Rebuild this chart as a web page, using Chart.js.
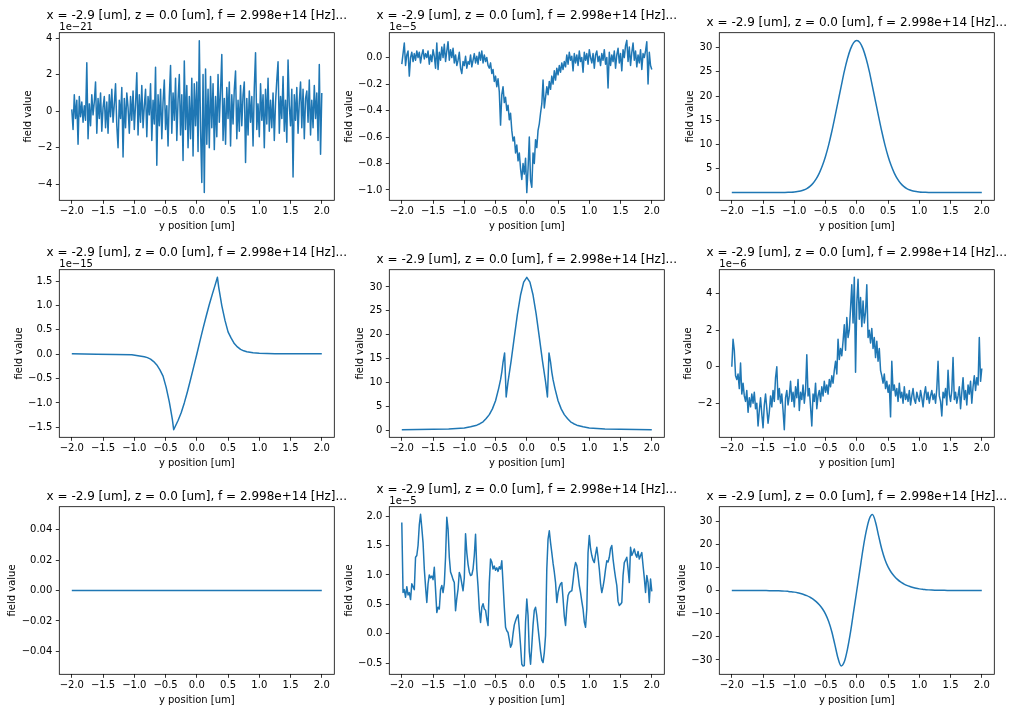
<!DOCTYPE html>
<html>
<head>
<meta charset="utf-8">
<script src="https://cdn.jsdelivr.net/npm/chart.js@4.4.1/dist/chart.umd.min.js"></script>
<style>
  html, body { margin: 0; padding: 0; background: #fff; }
  #fig { position: relative; width: 1013px; height: 712px; }
  #fig canvas { position: absolute; left: 0; top: 0; }
</style>
</head>
<body>
<div id="fig"></div>
<script>
// y position grids [um]
var yPos = [];      // 0.02 steps, noisy panels
for (var i = 0; i <= 200; i++) yPos.push(Math.round((-2 + i * 0.02) * 100) / 100);
var yPosCoarse = []; // 0.05 steps, smooth panels
for (var j = 0; j <= 80; j++) yPosCoarse.push(Math.round((-2 + j * 0.05) * 100) / 100);

var xTicks = [-2, -1.5, -1, -0.5, 0, 0.5, 1, 1.5, 2];

// row 1, col 1  (x 1e-21)
var p11 = [
  0.1, -1.0, 0.9, -0.4, 0.6, -1.8, 0.8, -0.3, 0.5, -0.6,
  0.3, -0.5, 2.65, -1.5, 0.4, -0.8, 0.9, -0.2, 0.5, 1.6,
  -1.2, 0.7, -0.4, 1.0, -1.1, 0.2, 0.8, -0.9, 0.5, -1.2,
  0.9, -0.3, 1.2, -0.6, 0.4, 1.5, -0.8, -2.0, 0.6, -0.4,
  1.3, -2.5, 0.7, -0.9, 1.0, 0.2, -1.2, 0.8, -0.5, 1.1,
  -1.0, 0.4, 2.1, -1.3, 0.9, -0.6, 1.4, -0.9, 0.3, 1.2,
  -1.4, 0.8, -0.2, 1.5, -1.6, 0.6, -0.7, 2.4, -2.95, 0.9,
  -0.8, 1.2, -1.5, 0.5, 1.7, -1.0, 0.3, -1.9, 0.8, 2.5,
  -1.2, 1.0, -0.5, 1.8, -1.6, 0.6, 2.0, -1.3, 0.9, -2.7,
  2.75, -1.0, 1.4, -2.0, 0.8, -1.5, 1.8, -2.45, 1.5, -0.8,
  1.6, -2.2, 3.85, -1.0, -3.9, 2.0, -4.45, 2.3, -1.8, 1.2,
  -2.0, 1.9, -0.9, 1.5, -2.1, 0.8, -1.4, 2.0, -0.6, 1.1,
  3.1, -1.6, 0.7, -1.8, 1.3, -0.4, 1.6, -1.9, 0.9, -0.7,
  1.2, 2.2, -1.5, 0.6, -1.1, 1.4, -0.8, 0.9, 1.6, -2.8,
  0.7, -1.3, 1.1, -0.6, 0.8, -1.9, 1.3, 3.2, -1.0, 0.4,
  -1.4, 1.5, -0.5, 0.9, -2.0, 1.2, -0.7, 1.8, -1.1, 0.6,
  -0.9, 1.0, -1.6, 0.5, 1.7, 2.7, -1.2, 0.8, -0.4, 1.9,
  -1.1, 0.6, -1.7, 2.8, 0.3, -0.8, 1.2, -3.6, 0.9, -0.5,
  1.3, -1.2, 0.5, 1.6, -0.9, 1.2, -1.5, 0.7, 1.1, -0.6,
  1.7, -1.3, 0.6, -0.9, 1.4, -0.4, 1.0, -1.6, 2.55, -2.35,
  1.0
];

// row 1, col 2  (x 1e-5)
var p12 = [
  -0.05, 0.03, 0.11, -0.06, 0.02, 0.05, -0.14, 0.0, 0.04, -0.03,
  0.03, -0.02, 0.05, 0.0, 0.04, -0.04, 0.02, 0.06, -0.01, 0.03,
  0.0, 0.05, -0.05, 0.02, -0.03, 0.06, 0.01, -0.08, 0.11, -0.09,
  0.04, -0.02, 0.08, 0.0, 0.1, -0.03, 0.05, 0.12, -0.02, 0.06,
  0.0, 0.07, -0.04, 0.02, -0.06, -0.02, 0.04, -0.08, -0.12, -0.03,
  -0.06, 0.01, -0.08, -0.03, -0.05, 0.02, -0.07, -0.02, 0.03, -0.04,
  0.01, -0.05, 0.04, -0.02, 0.05, -0.04, 0.02, -0.03, 0.0, -0.06,
  -0.08, -0.04, -0.12, -0.09, -0.18, -0.14, -0.22, -0.16, -0.26, -0.51,
  -0.28, -0.22, -0.34, -0.3, -0.4, -0.36, -0.47, -0.42, -0.55, -0.63,
  -0.6, -0.72, -0.66, -0.78, -0.72, -0.84, -0.92, -0.8, -0.88, -0.76,
  -1.02, -0.84, -0.6, -0.93, -0.98, -0.72, -0.8, -0.62, -0.68, -0.55,
  -0.5, -0.42, -0.35, -0.17, -0.38, -0.3, -0.22, -0.28, -0.18, -0.24,
  -0.14, -0.2, -0.1, -0.17, -0.08, -0.13, -0.06, -0.11, -0.04, -0.09,
  -0.03, -0.07, 0.02, -0.05, 0.04, -0.02, 0.01, -0.1, 0.03, -0.04,
  0.02, -0.06, 0.05, -0.03, 0.0, -0.11, 0.04, -0.02, 0.03, -0.05,
  0.06, 0.0, -0.04, 0.03, -0.08, 0.02, 0.05, -0.03, 0.01, -0.06,
  0.03, -0.02, 0.06, -0.05, 0.0, -0.23, 0.04, -0.06, 0.02, -0.03,
  0.05, -0.08, 0.02, 0.07, -0.04, 0.03, -0.1, 0.06, 0.0, 0.09,
  0.13, -0.03, 0.08, -0.06, 0.04, 0.11, -0.02, 0.05, -0.07, 0.02,
  -0.04, 0.06, -0.09, 0.03, 0.0, 0.05, 0.12, -0.2, 0.04, -0.06,
  -0.09
];

// row 1, col 3
var p13 = [
  0.02, 0.02, 0.02, 0.02, 0.02, 0.02, 0.02, 0.02, 0.02, 0.02, 0.02, 0.02, 0.02, 0.02, 0.02, 0.02,
  0.03, 0.04, 0.06, 0.09, 0.14, 0.22, 0.35, 0.55, 0.85, 1.3, 1.95, 2.85, 4.05, 5.6,
  7.55, 9.9, 12.65, 15.7, 18.85, 22.0, 25.1, 27.7, 29.75, 31.05,
  31.5,
  31.05, 29.75, 27.7, 25.1, 22.0, 18.85, 15.7, 12.65, 9.9, 7.55,
  5.6, 4.05, 2.85, 1.95, 1.3, 0.85, 0.55, 0.35, 0.22, 0.14, 0.09, 0.06, 0.04, 0.03,
  0.02, 0.02, 0.02, 0.02, 0.02, 0.02, 0.02, 0.02, 0.02, 0.02, 0.02, 0.02, 0.02, 0.02, 0.02, 0.02
];

// row 2, col 1  (x 1e-15)
var x21 = [-2.0, -1.6, -1.3, -1.04, -0.94, -0.84, -0.79, -0.74, -0.69, -0.64, -0.59, -0.54, -0.49, -0.44,
  -0.42, -0.39, -0.37, -0.3, -0.25, -0.2, -0.15, -0.1, -0.05, 0.0, 0.05, 0.1, 0.15, 0.2, 0.25, 0.3,
  0.33, 0.35, 0.38, 0.4, 0.45, 0.5, 0.55, 0.6, 0.65, 0.7, 0.75, 0.8, 0.9, 1.0, 1.25, 1.5, 2.0];
var p21 = [0.01, 0.0, -0.005, -0.01, -0.03, -0.05, -0.07, -0.1, -0.15, -0.22, -0.32, -0.45, -0.68, -0.98,
  -1.12, -1.35, -1.55, -1.36, -1.2, -1.0, -0.77, -0.52, -0.26, 0.0, 0.27, 0.53, 0.78, 1.02, 1.24, 1.45,
  1.58, 1.38, 1.15, 1.0, 0.7, 0.46, 0.33, 0.22, 0.15, 0.1, 0.07, 0.05, 0.03, 0.02, 0.01, 0.01, 0.01];

// row 2, col 2
var x22 = [-2.0, -1.5, -1.25, -1.0, -0.9, -0.8, -0.75, -0.7, -0.65, -0.6, -0.55, -0.5, -0.45, -0.42,
  -0.4, -0.38, -0.355, -0.33, -0.3, -0.25, -0.2, -0.15, -0.1, -0.05, 0.0, 0.05, 0.1, 0.15, 0.2, 0.25,
  0.3, 0.33, 0.355, 0.38, 0.4, 0.42, 0.45, 0.5, 0.55, 0.6, 0.65, 0.7, 0.75, 0.8, 0.9, 1.0, 1.25, 1.5, 2.0];
var p22 = [0.15, 0.22, 0.3, 0.5, 0.75, 1.1, 1.4, 1.8, 2.5, 3.3, 4.5, 6.2, 8.8, 10.6,
  12.2, 14.3, 16.2, 7.0, 10.2, 14.6, 19.5, 24.3, 28.3, 31.0, 32.0, 31.0, 28.3, 24.3, 19.5, 14.6,
  10.2, 7.0, 16.2, 14.3, 12.2, 10.6, 8.8, 6.2, 4.5, 3.3, 2.5, 1.8, 1.4, 1.1, 0.75, 0.5, 0.3, 0.22, 0.15];

// row 2, col 3  (x 1e-6)
var p23 = [
  0.0, 1.5, 0.9, -0.5, -0.7, -0.4, -1.2, 0.2, -1.5, -0.9,
  -1.6, -1.9, -1.3, -2.5, -1.7, -2.2, -1.5, -2.0, -1.4, -2.3,
  -2.0, -3.25, -2.4, -1.7, -2.6, -3.35, -2.1, -1.5, -2.3, -3.1,
  -2.5, -1.6, -2.2, -1.3, -1.9, -0.6, 0.0, -1.8, -1.2, -2.0,
  -1.5, -2.4, -3.45, -1.7, -1.3, -2.1, -1.6, -0.8, -1.9, -1.4,
  -2.2, -1.1, -1.7, -0.7, -2.4, -1.4, -1.8, -1.0, -2.0, -1.3,
  0.65, -1.6, -1.2, -2.2, -3.25, -1.5, -1.9, -0.9, -2.3, -1.6,
  -1.3, -1.9, -1.1, -1.6, -0.8, -1.4, -1.0, -1.5, -0.7, -1.1,
  -0.5, -0.9, -0.2, 0.3, -0.4, 1.5, 0.4, 1.0, 0.6, 1.4,
  2.3, 0.9, 2.7, 1.6, 2.0, 3.2, 4.5, 2.4, 4.9, -0.3,
  3.5, 4.8, 2.6, 3.8, 2.2, 3.6, 2.4, 3.0, 4.5, 1.6,
  2.0, 1.3, 2.1, 1.0, 1.6, 0.5, 1.4, 0.3, 1.0, -0.2,
  -0.5, -0.9, -0.4, -1.2, -0.8, -1.4, -1.0, -2.75, 0.3, -1.3,
  -1.0, -1.6, -1.2, -1.9, -0.9, -1.7, -1.4, -2.0, -1.1, -1.8,
  -1.5, -1.9, -1.3, -2.1, -1.6, -1.2, -1.8, -2.0, -1.4, -1.7,
  -1.9, -1.3, -1.7, -2.2, -1.5, -1.1, -1.8, -1.4, -2.0, -1.6,
  -1.3, -1.8, -1.5, -2.0, -1.2, 0.3, -1.6, -1.9, -2.7, -1.4,
  -1.7, -1.2, -2.1, -0.2, -1.5, -1.9, -1.3, 0.5, -1.8, -1.4,
  -2.0, -1.6, -1.1, -2.3, -1.4, -0.6, -1.8, -1.3, -2.1, -1.0,
  -1.5, -0.8, -2.0, -1.1, -0.5, -1.3, -0.6, -1.0, 1.6, -0.8,
  -0.1
];

// row 3, col 1
var x31 = [-2.0, -1.0, 0.0, 1.0, 2.0];
var p31 = [0, 0, 0, 0, 0];

// row 3, col 2  (x 1e-5)
var p32 = [
  1.89, 0.7, 0.75, 0.62, 0.8, 0.66, 0.7, 0.58, 0.85, 0.8,
  0.75, 1.3, 1.33, 1.5, 1.85, 2.03, 1.8, 1.55, 1.1, 0.8,
  0.53, 0.85, 1.0, 0.95, 0.98, 0.92, 1.13, 0.75, 0.36, 0.45,
  0.42, 0.75, 0.82, 0.7, 0.85, 1.3, 1.98, 1.78, 1.3, 1.05,
  0.99, 0.92, 0.87, 0.39, 0.6, 0.76, 1.04, 0.98, 0.85, 0.73,
  0.95, 1.7, 1.38, 1.18, 1.05, 0.99, 1.0, 1.1, 1.33, 1.69,
  1.1, 0.8, 0.42, 0.19, 0.45, 0.51, 0.42, 0.4, 0.25, 0.14,
  0.87, 1.27, 1.22, 1.1, 1.15, 1.08, 1.12, 1.06, 1.14, 1.1,
  1.24, 0.85, 0.45, 0.11, 0.05, 0.02, -0.1, -0.23, -0.18, 0.0,
  0.15, 0.22, 0.28, 0.32, 0.08, -0.2, -0.52, -0.55, -0.54, 0.2,
  0.59, 0.31, -0.3, -0.52, -0.2, 0.15, 0.4, 0.45, 0.31, 0.1,
  -0.1, -0.3, -0.45, -0.49, -0.32, -0.03, 1.1, 1.61, 1.75, 1.55,
  1.38, 1.2, 1.05, 0.87, 0.53, 0.7, 0.79, 0.85, 0.87, 0.6,
  0.3, 0.14, 0.45, 0.65, 0.7, 0.72, 0.73, 0.9, 1.1, 1.21,
  1.16, 1.0, 0.82, 0.7, 0.55, 0.42, 0.2, 0.11, 0.42, 1.38,
  1.67, 1.45, 1.33, 1.25, 1.21, 1.35, 1.47, 1.3, 1.1, 0.85,
  0.7, 0.8, 0.93, 1.1, 1.24, 1.22, 1.3, 1.45, 1.5, 1.27,
  1.1, 0.95, 0.82, 0.55, 0.48, 0.5, 0.53, 0.99, 1.21, 1.25,
  1.3, 1.1, 0.87, 1.47, 1.33, 1.38, 1.44, 1.35, 1.3, 1.4,
  1.27, 1.33, 1.38, 1.16, 0.95, 0.7, 0.99, 0.87, 0.53, 0.93,
  0.72
];

// row 3, col 3
var p33 = [
  -0.03, -0.03, -0.03, -0.03, -0.03, -0.03, -0.03, -0.03, -0.03, -0.03,
  -0.04, -0.05, -0.06, -0.08, -0.11, -0.15, -0.2, -0.27, -0.37, -0.5,
  -0.7, -0.95, -1.3, -1.7, -2.2, -2.9, -3.7, -4.8, -6.2, -7.9,
  -10.2, -13.4, -17.8, -23.5, -29.3, -32.6, -30.8, -25.4, -17.9, -8.9,
  0.0,
  9.0, 18.0, 25.5, 30.9, 32.8, 29.5, 23.5, 17.8, 13.4, 10.2,
  7.9, 6.2, 4.8, 3.7, 2.9, 2.2, 1.7, 1.3, 0.95, 0.7,
  0.5, 0.37, 0.27, 0.2, 0.15, 0.11, 0.08, 0.06, 0.05, 0.04,
  0.03, 0.03, 0.03, 0.03, 0.03, 0.03, 0.03, 0.03, 0.03, 0.03
];

var titleText = 'x = -2.9 [um], z = 0.0 [um], f = 2.998e+14 [Hz]...';

var panels = [
  { xs: yPos, ys: p11, yMin: -4.87, yMax: 4.29, yTicks: [-4, -2, 0, 2, 4], dec: 0, offset: '1e\u221221' },
  { xs: yPos, ys: p12, yMin: -1.078, yMax: 0.188, yTicks: [-1, -0.8, -0.6, -0.4, -0.2, 0], dec: 1, offset: '1e\u22125' },
  { xs: yPosCoarse, ys: p13, yMin: -1.58, yMax: 33.1, yTicks: [0, 5, 10, 15, 20, 25, 30], dec: 0, smooth: true },
  { xs: x21, ys: p21, yMin: -1.706, yMax: 1.736, yTicks: [-1.5, -1, -0.5, 0, 0.5, 1, 1.5], dec: 1, offset: '1e\u221215' },
  { xs: x22, ys: p22, yMin: -1.44, yMax: 33.6, yTicks: [0, 5, 10, 15, 20, 25, 30], dec: 0 },
  { xs: yPos, ys: p23, yMin: -3.87, yMax: 5.32, yTicks: [-2, 0, 2, 4], dec: 0, offset: '1e\u22126' },
  { xs: x31, ys: p31, yMin: -0.055, yMax: 0.055, yTicks: [-0.04, -0.02, 0, 0.02, 0.04], dec: 2 },
  { xs: yPos, ys: p32, yMin: -0.69, yMax: 2.16, yTicks: [-0.5, 0, 0.5, 1, 1.5, 2], dec: 1, offset: '1e\u22125' },
  { xs: yPosCoarse, ys: p33, yMin: -36.2, yMax: 36.2, yTicks: [-30, -20, -10, 0, 10, 20, 30], dec: 0, smooth: true }
];

var colLeft = [59.3, 389.3, 719.3];
var rowTop = [32.7, 269.7, 506.7];
var boxW = 275, boxH = 167.6;
var figW = 1013, figH = 712;

function fmt(v, d) {
  return v.toFixed(d).replace('-', '\u2212');
}

var panelText = {
  id: 'panelText',
  afterDatasetsDraw: function(chart, args, opts) {
    var ctx = chart.ctx, a = chart.chartArea;
    ctx.save();
    ctx.strokeStyle = '#000';
    ctx.lineWidth = 0.8;
    ctx.strokeRect(a.left, a.top, a.right - a.left, a.bottom - a.top);
    ctx.fillStyle = '#000';
    ctx.font = '12px "DejaVu Sans"';
    ctx.textAlign = 'center';
    ctx.textBaseline = 'alphabetic';
    ctx.fillText(titleText, (a.left + a.right) / 2, a.top - (opts.offset ? 14.2 : 7));
    ctx.font = '10px "DejaVu Sans"';
    if (opts.offset) {
      ctx.textAlign = 'left';
      ctx.fillText(opts.offset, a.left, a.top - 2.3);
    }
    ctx.textAlign = 'center';
    ctx.fillText('y position [um]', (a.left + a.right) / 2, a.bottom + 28.7);
    var w = 0;
    chart.scales.y.ticks.forEach(function(t) {
      w = Math.max(w, ctx.measureText(t.label).width);
    });
    ctx.translate(a.left - w - 13.4, (a.top + a.bottom) / 2);
    ctx.rotate(-Math.PI / 2);
    ctx.fillText('field value', 0, 0);
    ctx.restore();
  }
};

Chart.defaults.font.family = '"DejaVu Sans"';
Chart.defaults.font.size = 10;
Chart.defaults.color = '#000';

// axis boxes fill the whole margin so the plot area lands exactly where wanted
function fixFit(size, horizontal) {
  return function(axis) {
    if (horizontal) axis.height = size; else axis.width = size;
    axis.paddingLeft = 0; axis.paddingRight = 0;
    axis.paddingTop = 0; axis.paddingBottom = 0;
  };
}

panels.forEach(function(p, k) {
  var left = colLeft[k % 3], top = rowTop[Math.floor(k / 3)];
  var cv = document.createElement('canvas');
  cv.width = figW; cv.height = figH;
  document.getElementById('fig').appendChild(cv);
  var pts = p.xs.map(function(x, n) { return { x: x, y: p.ys[n] }; });
  new Chart(cv, {
    type: 'line',
    data: {
      datasets: [{
        data: pts,
        borderColor: '#1f77b4',
        borderWidth: 1.5,
        borderJoinStyle: 'round',
        pointRadius: 0,
        fill: false,
        tension: 0,
        cubicInterpolationMode: p.smooth ? 'monotone' : 'default'
      }]
    },
    options: {
      responsive: false,
      animation: false,
      devicePixelRatio: 1,
      events: [],
      layout: {
        padding: { left: 0, top: top, right: figW - left - boxW, bottom: 0 }
      },
      plugins: {
        legend: { display: false },
        tooltip: { enabled: false },
        title: { display: false },
        panelText: { offset: p.offset }
      },
      scales: {
        x: {
          type: 'linear', min: -2.2, max: 2.2,
          afterFit: fixFit(figH - top - boxH, true),
          afterBuildTicks: function(axis) { axis.ticks = xTicks.map(function(v) { return { value: v }; }); },
          grid: { drawOnChartArea: false, drawTicks: true, tickLength: 3.5, tickWidth: 0.8, tickColor: '#000' },
          border: { display: false },
          ticks: { padding: 1.5, autoSkip: false, maxRotation: 0, callback: function(v) { return fmt(v, 1); } }
        },
        y: {
          type: 'linear', min: p.yMin, max: p.yMax,
          afterFit: fixFit(left, false),
          afterBuildTicks: function(axis) { axis.ticks = p.yTicks.map(function(v) { return { value: v }; }); },
          grid: { drawOnChartArea: false, drawTicks: true, tickLength: 3.5, tickWidth: 0.8, tickColor: '#000' },
          border: { display: false },
          ticks: { padding: 3.5, autoSkip: false, callback: function(v) { return fmt(v, p.dec); } }
        }
      }
    },
    plugins: [panelText]
  });
});
</script>
</body>
</html>
